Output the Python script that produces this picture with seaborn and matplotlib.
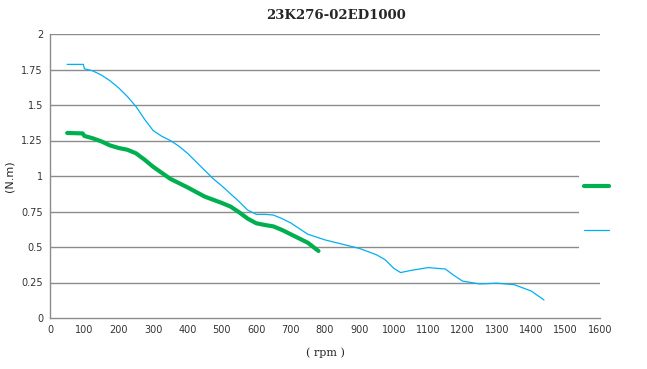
import numpy as np
import pandas as pd
import matplotlib
matplotlib.use("Agg")
import matplotlib.pyplot as plt
import seaborn as sns

# Kurven (rpm, N.m)
blue_rpm = [50, 97, 100, 125, 150, 175, 200, 225, 250, 275, 300, 325, 350, 375, 400,
            425, 450, 475, 500, 525, 550, 575, 600, 625, 650, 675, 700, 750, 800, 850,
            900, 950, 975, 1000, 1020, 1050, 1100, 1150, 1175, 1200, 1250, 1300, 1350,
            1400, 1437]
blue_nm = [1.786, 1.786, 1.755, 1.74, 1.71, 1.67, 1.62, 1.56, 1.49, 1.40, 1.32, 1.28,
           1.25, 1.21, 1.16, 1.10, 1.04, 0.98, 0.93, 0.875, 0.82, 0.76, 0.73, 0.73,
           0.725, 0.70, 0.67, 0.59, 0.55, 0.52, 0.49, 0.445, 0.41, 0.35, 0.32, 0.335,
           0.355, 0.345, 0.30, 0.26, 0.24, 0.245, 0.235, 0.19, 0.127]

green_rpm = [50, 95, 100, 125, 150, 175, 200, 225, 250, 275, 300, 350, 400, 450, 500,
             525, 550, 575, 600, 625, 650, 675, 700, 750, 781]
green_nm = [1.303, 1.30, 1.282, 1.265, 1.243, 1.215, 1.197, 1.185, 1.16, 1.115, 1.065,
            0.98, 0.92, 0.855, 0.81, 0.785, 0.745, 0.70, 0.667, 0.655, 0.645, 0.62,
            0.59, 0.53, 0.472]

title = "23K276-02ED1000"
x_ticks = list(range(0, 1700, 100))
y_ticks = [0, 0.25, 0.5, 0.75, 1, 1.25, 1.5, 1.75, 2]
y_tick_labels = ["0", "0.25", "0.5", "0.75", "1", "1.25", "1.5", "1.75", "2"]

df_blue = pd.DataFrame({"rpm": blue_rpm, "nm": blue_nm})
df_green = pd.DataFrame({"rpm": green_rpm, "nm": green_nm})

sns.set_theme(style="white")
plt.rcParams["font.family"] = ["DejaVu Sans"]

fig = plt.figure(figsize=(6.47, 3.69), dpi=100)
ax = fig.add_axes([50 / 647, 1 - 318 / 369, 550 / 647, 284 / 369])

sns.lineplot(data=df_green, x="rpm", y="nm", ax=ax, color="#00B050", linewidth=3,
             estimator=None, sort=False, label="g", solid_capstyle="round",
             solid_joinstyle="round")
sns.lineplot(data=df_blue, x="rpm", y="nm", ax=ax, color="#00B0F0", linewidth=0.9,
             estimator=None, sort=False, label="b")

ax.set_xlim(0, 1600)
ax.set_ylim(0, 2)
ax.set_xticks(x_ticks)
ax.set_yticks(y_ticks)
ax.set_yticklabels(y_tick_labels)
ax.tick_params(axis="both", labelsize=7, length=0, pad=5, colors="#333333")
for yv in y_ticks[1:]:
    ax.axhline(yv, color="#8c8c8c", linewidth=1, zorder=0)

for s in ["top", "right"]:
    ax.spines[s].set_visible(False)
for s in ["left", "bottom"]:
    ax.spines[s].set_color("#8c8c8c")
    ax.spines[s].set_linewidth(1)

ax.set_xlabel("( rpm )", fontsize=8, family="DejaVu Serif", labelpad=9)
ax.set_ylabel("(N.m)", fontsize=8, labelpad=5)
fig.suptitle(title, x=0.519, y=0.975, fontsize=9.5, fontweight="bold",
             family="DejaVu Serif")

handles, _ = ax.get_legend_handles_labels()
leg = ax.legend(handles, ["", ""], loc="center left", bbox_to_anchor=(0.961, 0.368),
                frameon=True, framealpha=1, facecolor="white", edgecolor="none",
                fontsize=8, handlelength=2.2, handleheight=3.6, handletextpad=0,
                labelspacing=1.4, borderpad=0.5, borderaxespad=0, fancybox=False)
leg.set_zorder(5)

fig.savefig("out.png", dpi=100)
